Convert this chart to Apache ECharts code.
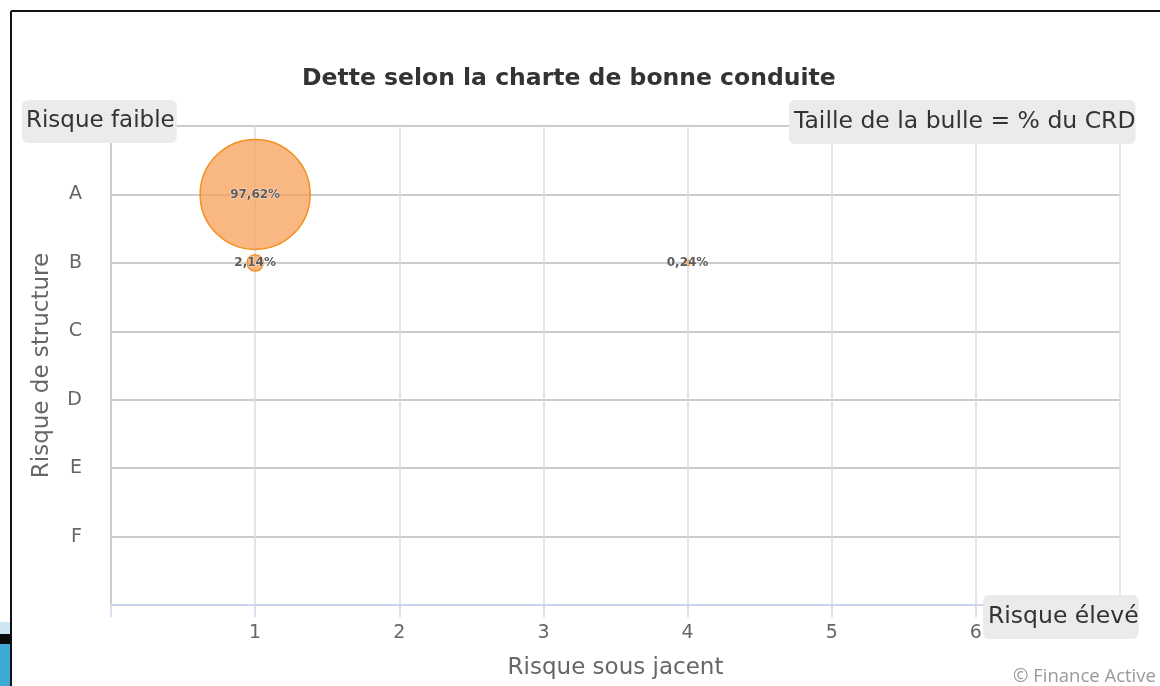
<!DOCTYPE html>
<html>
<head>
<meta charset="utf-8">
<script src="https://cdn.jsdelivr.net/npm/echarts@6/dist/echarts.min.js"></script>
<style>
html,body{margin:0;padding:0;background:#fff;}
#chart{width:1160px;height:686px;}
</style>
</head>
<body>
<div id="chart"></div>
<script>
// ---- data ----
var structureCategories = ['A', 'B', 'C', 'D', 'E', 'F'];
var underlyingTicks = [1, 2, 3, 4, 5, 6];
var bubbleX = [1, 1, 4];          // Risque sous jacent
var bubbleY = ['A', 'B', 'B'];    // Risque de structure
var bubblePct = [97.62, 2.14, 0.24]; // % du CRD

var seriesData = bubbleX.map(function (x, i) {
  return [x, structureCategories.indexOf(bubbleY[i]) + 1, bubblePct[i]];
});
var maxPct = Math.max.apply(null, bubblePct);
var FONT = 'DejaVu Sans';

var chart = echarts.init(document.getElementById('chart'), null, {renderer: 'canvas'});
chart.setOption({
  backgroundColor: '#ffffff',
  animation: false,
  title: {
    text: 'Dette selon la charte de bonne conduite',
    left: 297, top: 62,
    textStyle: {fontFamily: FONT, fontSize: 23.5, fontWeight: 'bold', color: '#333333'}
  },
  grid: {left: 111, right: 40, top: 126, bottom: 81, containLabel: false},
  xAxis: {
    type: 'value', min: 0, max: 7, interval: 1,
    name: 'Risque sous jacent', nameLocation: 'middle', nameGap: 52,
    nameTextStyle: {fontFamily: FONT, fontSize: 23, color: '#666666'},
    axisLine: {show: true, onZero: false, lineStyle: {color: '#ccd6eb', width: 2}},
    axisTick: {show: true, length: 12, lineStyle: {color: '#ccd6eb', width: 1.5}},
    axisLabel: {
      margin: 19, fontFamily: FONT, fontSize: 19, color: '#666666',
      formatter: function (v) { return underlyingTicks.indexOf(v) >= 0 ? String(v) : ''; }
    },
    splitLine: {show: true, lineStyle: {color: '#d9dde4', width: 1.5}}
  },
  yAxis: {
    type: 'value', inverse: true, min: 0, max: 7, interval: 1,
    name: 'Risque de structure', nameLocation: 'middle', nameGap: 57,
    nameTextStyle: {fontFamily: FONT, fontSize: 23, color: '#666666'},
    axisLine: {show: true, onZero: false, lineStyle: {color: '#cccccc', width: 2}},
    axisTick: {show: false},
    axisLabel: {
      margin: 29, fontFamily: FONT, fontSize: 19, color: '#666666',
      formatter: function (v) { return (v >= 1 && v <= structureCategories.length) ? structureCategories[v - 1] : ''; }
    },
    splitLine: {show: true, lineStyle: {color: '#cccccc', width: 2}}
  },
  series: [{
    type: 'scatter',
    data: seriesData,
    symbol: 'circle',
    symbolSize: function (d) { return 110 * Math.sqrt(d[2] / maxPct); },
    itemStyle: {color: 'rgba(247,160,88,0.75)', borderColor: '#f39020', borderWidth: 1.5, opacity: 1},
    label: {
      show: true, position: 'inside',
      formatter: function (p) { return p.data[2].toFixed(2).replace('.', ',') + '%'; },
      fontFamily: FONT, fontSize: 12, fontWeight: 'bold', color: '#5c5c5c',
      textBorderColor: 'rgba(255,255,255,0.6)', textBorderWidth: 1
    },
    z: 3
  }],
  graphic: [
    // slide frame
    {type: 'line', shape: {x1: 11, y1: 11, x2: 1160, y2: 11}, style: {stroke: '#111', lineWidth: 2}, z: 10},
    {type: 'line', shape: {x1: 11, y1: 11, x2: 11, y2: 686}, style: {stroke: '#111', lineWidth: 2}, z: 10},
    // decorative corner
    {type: 'rect', shape: {x: 0, y: 622, width: 10, height: 12}, style: {fill: '#cfe5f1'}, z: 9},
    {type: 'rect', shape: {x: 0, y: 634, width: 10, height: 10}, style: {fill: '#0a0a0a'}, z: 9},
    {type: 'rect', shape: {x: 0, y: 644, width: 10, height: 42}, style: {fill: '#3fa9d6'}, z: 9},
    // annotation boxes
    {type: 'text', left: 22, top: 100, z: 20,
      style: {text: 'Risque faible', font: '23px "DejaVu Sans"', fill: '#333333',
        backgroundColor: '#ebebeb', borderRadius: 6, padding: [10, 2, 10, 4]}},
    {type: 'text', left: 789, top: 100, z: 20,
      style: {text: 'Taille de la bulle = % du CRD', font: '23.5px "DejaVu Sans"', fill: '#333333',
        backgroundColor: '#ebebeb', borderRadius: 6, padding: [10, 0, 10, 5]}},
    {type: 'text', left: 983, top: 595, z: 20,
      style: {text: 'Risque élevé', font: '23.5px "DejaVu Sans"', fill: '#333333',
        backgroundColor: '#ebebeb', borderRadius: 6, padding: [10, 0, 10, 5]}},
    {type: 'text', left: 1013, top: 667, z: 20,
      style: {text: '© Finance Active', font: '18.5px "Open Sans"', fill: '#999999'}}
  ]
});
</script>
</body>
</html>
